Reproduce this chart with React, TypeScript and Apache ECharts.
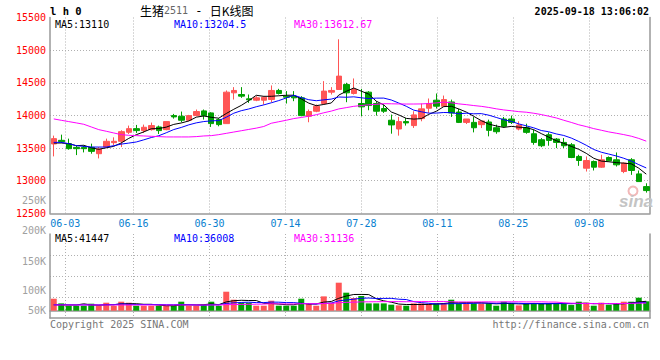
import React, { useEffect, useRef } from "react";
import * as echarts from "echarts";

// ---------- data ----------
const DATES = [
  "05-29", "05-30",
  "06-03", "06-04", "06-05", "06-06", "06-09", "06-10", "06-11", "06-12", "06-13",
  "06-16", "06-17", "06-18", "06-19", "06-20", "06-23", "06-24", "06-25", "06-26", "06-27", "06-30",
  "07-01", "07-02", "07-03", "07-04", "07-07", "07-08", "07-09", "07-10", "07-11",
  "07-14", "07-15", "07-16", "07-17", "07-18", "07-21", "07-22", "07-23", "07-24", "07-25",
  "07-28", "07-29", "07-30", "07-31", "08-01",
  "08-04", "08-05", "08-06", "08-07", "08-08", "08-11", "08-12", "08-13", "08-14", "08-15",
  "08-18", "08-19", "08-20", "08-21", "08-22", "08-25", "08-26", "08-27", "08-28", "08-29",
  "09-01", "09-02", "09-03", "09-04", "09-05", "09-08", "09-09", "09-10", "09-11", "09-12",
  "09-15", "09-16", "09-17", "09-18",
];

const LABEL_DATES = ["06-03", "06-16", "06-30", "07-14", "07-28", "08-11", "08-25", "09-08"];

const OPEN = [
  13562, 13618, 13567, 13510, 13510, 13510, 13413, 13515, 13582, 13603,
  13741, 13797, 13767, 13782, 13823, 13782, 13997, 13987, 13926, 13997,
  14069, 14038, 13936, 13874, 14346, 14320, 14254, 14233, 14233, 14243,
  14382, 14295, 14295, 14269, 13987, 14064, 14182, 14356, 14397, 14474,
  14336, 14182, 14356, 14182, 14105, 13926, 13792, 13905, 13844, 13951,
  14110, 14233, 14140, 14206, 14052, 13893, 13893, 13858, 13899, 13811,
  13945, 13945, 13791, 13811, 13719, 13627, 13704, 13637, 13586, 13550,
  13371, 13191, 13294, 13207, 13355, 13320, 13140, 13320, 13104, 12909,
];
const CLOSE = [
  13644, 13597, 13490, 13490, 13490, 13449, 13485, 13603, 13603, 13751,
  13797, 13767, 13818, 13844, 13767, 13905, 13977, 13926, 13997, 14059,
  13997, 13874, 13859, 14356, 14382, 14295, 14238, 14269, 14279, 14382,
  14336, 14279, 14269, 13997, 14059, 14141, 14372, 14382, 14602, 14346,
  14397, 14131, 14151, 14064, 14064, 13854, 13905, 13885, 14008, 14100,
  14182, 14141, 14242, 14037, 13893, 13945, 13811, 13914, 13771, 13750,
  13832, 13893, 13853, 13740, 13586, 13535, 13617, 13586, 13535, 13355,
  13309, 13309, 13207, 13320, 13304, 13243, 13268, 13156, 12986, 12848,
];
const LOW = [
  13372, 13577, 13474, 13392, 13433, 13413, 13341, 13500, 13541, 13515,
  13715, 13731, 13731, 13767, 13715, 13772, 13951, 13895, 13910, 13987,
  13936, 13823, 13833, 13870, 14243, 14269, 14192, 14218, 14166, 14202,
  14320, 14182, 14218, 13987, 13895, 14049, 14167, 14320, 14397, 14202,
  14320, 13987, 14079, 13997, 14038, 13720, 13690, 13844, 13808, 13910,
  14038, 14105, 14140, 13976, 13883, 13868, 13740, 13806, 13679, 13719,
  13811, 13868, 13771, 13719, 13550, 13514, 13535, 13499, 13499, 13345,
  13227, 13140, 13156, 13197, 13294, 13217, 13115, 13089, 12986, 12817,
];
const HIGH = [
  13690, 13705, 13644, 13536, 13536, 13567, 13515, 13644, 13664, 13772,
  13844, 13854, 13859, 13890, 13844, 13905, 14023, 14059, 14008, 14090,
  14090, 14049, 13956, 14382, 14433, 14433, 14320, 14295, 14295, 14459,
  14407, 14372, 14372, 14295, 14090, 14167, 14525, 14433, 15166, 14500,
  14566, 14407, 14372, 14218, 14167, 14013, 13977, 13961, 14064, 14182,
  14259, 14336, 14304, 14242, 14099, 13945, 13976, 13914, 13935, 13858,
  13976, 13997, 13909, 13873, 13781, 13653, 13740, 13653, 13653, 13576,
  13397, 13371, 13309, 13397, 13371, 13432, 13279, 13345, 13156, 12960,
];
const VOLUME = [
  53500, 32700, 22300, 22300, 22300, 31200, 22300, 35700, 22300, 40200,
  35700, 22300, 22300, 22300, 22300, 22300, 22300, 40200, 22300, 22300,
  26800, 40200, 22300, 84800, 49100, 35700, 35700, 22300, 22300, 44600,
  22300, 22300, 22300, 53600, 29800, 22300, 64000, 35700, 125000, 80400,
  56500, 65500, 32700, 32700, 32700, 26800, 23800, 22300, 32700, 32700,
  29800, 32700, 32700, 49100, 32700, 32700, 32700, 32700, 32700, 22300,
  40200, 32700, 23800, 32700, 32700, 32700, 32700, 32700, 32700, 25300,
  40200, 35700, 22300, 35700, 26800, 29800, 40200, 40200, 58000, 42000,
];

// moving-average values shown before enough history exists in this window
const MA5_HEAD = [13577, 13577, 13567, 13536];
const MA10_HEAD = [13587, 13587, 13567, 13536, 13526, 13515, 13515, 13515, 13536];
const MA30_HEAD = [
  13946, 13925, 13905, 13885, 13864, 13823, 13782, 13757, 13731, 13705,
  13695, 13690, 13685, 13680, 13675, 13670, 13670, 13670, 13670, 13675,
  13685, 13690, 13705, 13725, 13745, 13765, 13785, 13805, 13830,
];
const VMA5_HEAD = [26000, 26000, 25500, 25500];
const VMA10_HEAD = [26500, 26500, 26500, 26000, 26000, 26000, 26000, 26500, 27000];
const VMA30_HEAD = [
  25500, 25500, 25500, 25500, 25500, 25500, 25500, 25500, 25500, 25500,
  25500, 25500, 25500, 25500, 25500, 25500, 25500, 25500, 25500, 25500,
  25500, 25500, 25500, 27000, 27500, 28000, 28500, 29000, 29500,
];

const PRICE_TICKS = { min: 12500, max: 15500, step: 500 };
const VOL_LABELS = ["250K", "200K", "150K", "100K", "50K"];
const VOL_LABEL_Y = [200.7, 230.3, 261.2, 290.3, 310.3];

const HEADER = {
  code: "l h 0",
  name: "生猪",
  contract: "2511",
  kind: " - ",
  chart: "日K线图",
  time: "2025-09-18 13:06:02",
};
const PRICE_MA_TEXT = ["MA5:13110", "MA10:13204.5", "MA30:13612.67"];
const VOL_MA_TEXT = ["MA5:41447", "MA10:36008", "MA30:31136"];

// ---------- styles ----------
const MONO = "'DejaVu Sans Mono', monospace";
const CJK = "'Noto Sans CJK SC', sans-serif";
const UP = "#ff5555";
const DOWN = "#00a000";
const BORDER = "#999999";
const GRIDC = "#b0b0b0";
const MA_COLORS = ["#000000", "#0000ff", "#ff00ff"];

function movingAverage(values: number[], n: number, head: number[]) {
  return values.map((_, i) => {
    if (i < n - 1) return head[i];
    let s = 0;
    for (let k = i - n + 1; k <= i; k++) s += values[k];
    return Math.round((s / n) * 100) / 100;
  });
}

export default function App() {
  const ref = useRef<HTMLDivElement>(null);

  useEffect(() => {
    if (!ref.current) return;
    const chart = echarts.init(ref.current, undefined, { renderer: "svg" });

    const last = DATES.length - 1;
    const labelIdx = LABEL_DATES.map((d) => DATES.indexOf(d));
    const candles = DATES.map((_, i) => [OPEN[i], CLOSE[i], LOW[i], HIGH[i]]);
    const vols = VOLUME.map((v, i) => ({
      value: v,
      itemStyle: { color: CLOSE[i] >= OPEN[i] ? UP : DOWN },
    }));
    const ma5 = movingAverage(CLOSE, 5, MA5_HEAD);
    const ma10 = movingAverage(CLOSE, 10, MA10_HEAD);
    const ma30 = movingAverage(CLOSE, 30, MA30_HEAD);
    const vma5 = movingAverage(VOLUME, 5, VMA5_HEAD);
    const vma10 = movingAverage(VOLUME, 10, VMA10_HEAD);
    const vma30 = movingAverage(VOLUME, 30, VMA30_HEAD);

    const dotted = { color: GRIDC, width: 1, type: [1, 2] as any };
    const border = { color: BORDER, width: 1.5 };

    const lineSeries = (name: string, data: number[], color: string, x: number, y: number) => ({
      name,
      type: "line",
      xAxisIndex: x,
      yAxisIndex: y,
      data,
      symbol: "none",
      smooth: false,
      lineStyle: { color, width: 1 },
      z: 3,
    });

    const text = (t: string, x: number, y: number, fill: string, align = "left", extra: any = {}) => ({
      type: "text",
      x,
      y,
      silent: true,
      style: {
        text: t,
        fill,
        font: `${extra.fontWeight || "normal"} ${extra.fontSize || 10}px ${extra.fontFamily || MONO}`,
        textAlign: align,
        textVerticalAlign: "middle",
      },
      z: 10,
    });

    const maX = [55, 174, 294];

    chart.setOption({
      animation: false,
      backgroundColor: "#ffffff",
      grid: [
        { left: 50, top: 17.5, width: 600, height: 195.8 },
        { left: 50, top: 234, width: 600, height: 84 },
      ],
      xAxis: [
        {
          type: "category", gridIndex: 0, data: DATES, boundaryGap: true, position: "bottom",
          axisLine: { show: true, lineStyle: border }, axisTick: { show: false },
          axisLabel: { show: false }, splitLine: { show: false },
        },
        {
          type: "category", gridIndex: 1, data: DATES, boundaryGap: true, position: "bottom",
          axisLine: { show: true, lineStyle: border }, axisTick: { show: false },
          axisLabel: { show: false }, splitLine: { show: false },
        },
        {
          type: "value", gridIndex: 0, min: 0, max: last, position: "bottom",
          axisLine: { show: false },
          axisTick: { show: false, customValues: labelIdx },
          axisLabel: {
            show: true, customValues: labelIdx, margin: 5,
            formatter: (v: number) => DATES[Math.round(v)],
            color: "#0a7fd0", fontFamily: MONO, fontSize: 10,
          },
          splitLine: { show: true, lineStyle: dotted },
        },
        {
          type: "value", gridIndex: 1, min: 0, max: last, position: "top",
          axisLine: { show: true, lineStyle: border },
          axisTick: { show: false, customValues: labelIdx },
          axisLabel: { show: false, customValues: labelIdx },
          splitLine: { show: true, lineStyle: dotted },
        },
      ],
      yAxis: [
        {
          type: "value", gridIndex: 0, min: PRICE_TICKS.min, max: PRICE_TICKS.max, interval: PRICE_TICKS.step,
          position: "left",
          axisLine: { show: true, lineStyle: border }, axisTick: { show: false },
          axisLabel: {
            color: "#ff0000", fontFamily: MONO, fontSize: 10, margin: 4,
            formatter: (v: number) => String(v),
          },
          splitLine: { show: true, showMinLine: false, showMaxLine: false, lineStyle: dotted },
        },
        {
          type: "value", gridIndex: 0, min: PRICE_TICKS.min, max: PRICE_TICKS.max, position: "right",
          axisLine: { show: true, lineStyle: border }, axisTick: { show: false },
          axisLabel: { show: false }, splitLine: { show: false },
        },
        {
          type: "value", gridIndex: 1, min: -32600, max: 342400, position: "left",
          axisLine: { show: true, lineStyle: border }, axisTick: { show: false },
          axisLabel: { show: false }, splitLine: { show: false },
        },
        {
          type: "value", gridIndex: 1, min: 0, max: 4, interval: 1, position: "right",
          axisLine: { show: true, lineStyle: border }, axisTick: { show: false },
          axisLabel: { show: false },
          splitLine: { show: true, showMinLine: false, showMaxLine: false, lineStyle: dotted },
        },
      ],
      series: [
        {
          name: "K", type: "candlestick", xAxisIndex: 0, yAxisIndex: 0, data: candles,
          barWidth: 6,
          itemStyle: { color: UP, color0: DOWN, borderColor: UP, borderColor0: DOWN, borderWidth: 1 },
          z: 2,
        },
        lineSeries("MA5", ma5, MA_COLORS[0], 0, 0),
        lineSeries("MA10", ma10, MA_COLORS[1], 0, 0),
        lineSeries("MA30", ma30, MA_COLORS[2], 0, 0),
        {
          name: "VOL", type: "bar", xAxisIndex: 1, yAxisIndex: 2, data: vols, barWidth: 6, z: 2,
        },
        lineSeries("VMA5", vma5, MA_COLORS[0], 1, 2),
        lineSeries("VMA10", vma10, MA_COLORS[1], 1, 2),
        lineSeries("VMA30", vma30, MA_COLORS[2], 1, 2),
      ],
      graphic: [
        text(HEADER.code, 50, 10.5, "#000", "left", { fontSize: 10.5, fontWeight: "bold" }),
        {
          type: "text", x: 140, y: 10.5, silent: true, z: 10,
          style: {
            text: `{a|${HEADER.name}}{b|${HEADER.contract}}{c|${HEADER.kind}}{a|${HEADER.chart}}`,
            textVerticalAlign: "middle",
            rich: {
              a: { fontFamily: CJK, fontSize: 12, fill: "#000" },
              b: { fontFamily: MONO, fontSize: 10, fill: "#666" },
              c: { fontFamily: MONO, fontSize: 12, fill: "#000" },
            },
          },
        },
        text(HEADER.time, 649, 11.5, "#000", "right", { fontWeight: "bold" }),
        ...PRICE_MA_TEXT.map((t, i) => text(t, maX[i], 24, MA_COLORS[i])),
        ...VOL_MA_TEXT.map((t, i) => text(t, maX[i], 238, MA_COLORS[i])),
        ...VOL_LABELS.map((t, i) => text(t, 46, VOL_LABEL_Y[i], "#a0a0a0", "right")),
        text("Copyright 2025 SINA.COM", 50, 324, "#777"),
        text("http://finance.sina.com.cn", 649, 324, "#777", "right"),
        {
          type: "circle", silent: true, z: 1,
          shape: { cx: 633, cy: 191, r: 4.5 },
          style: { fill: "none", stroke: "#f2b8b8", lineWidth: 2 },
        },
        {
          type: "text", x: 619, y: 201, silent: true, z: 1,
          style: {
            text: "sina", fill: "#c4c4c4",
            font: "italic bold 17px 'Liberation Sans', sans-serif",
            textVerticalAlign: "middle",
          },
        },
      ],
    });

    return () => chart.dispose();
  }, []);

  return (
    <div
      ref={ref}
      style={{ position: "absolute", left: 0, top: 0, width: 660, height: 360 }}
    />
  );
}
